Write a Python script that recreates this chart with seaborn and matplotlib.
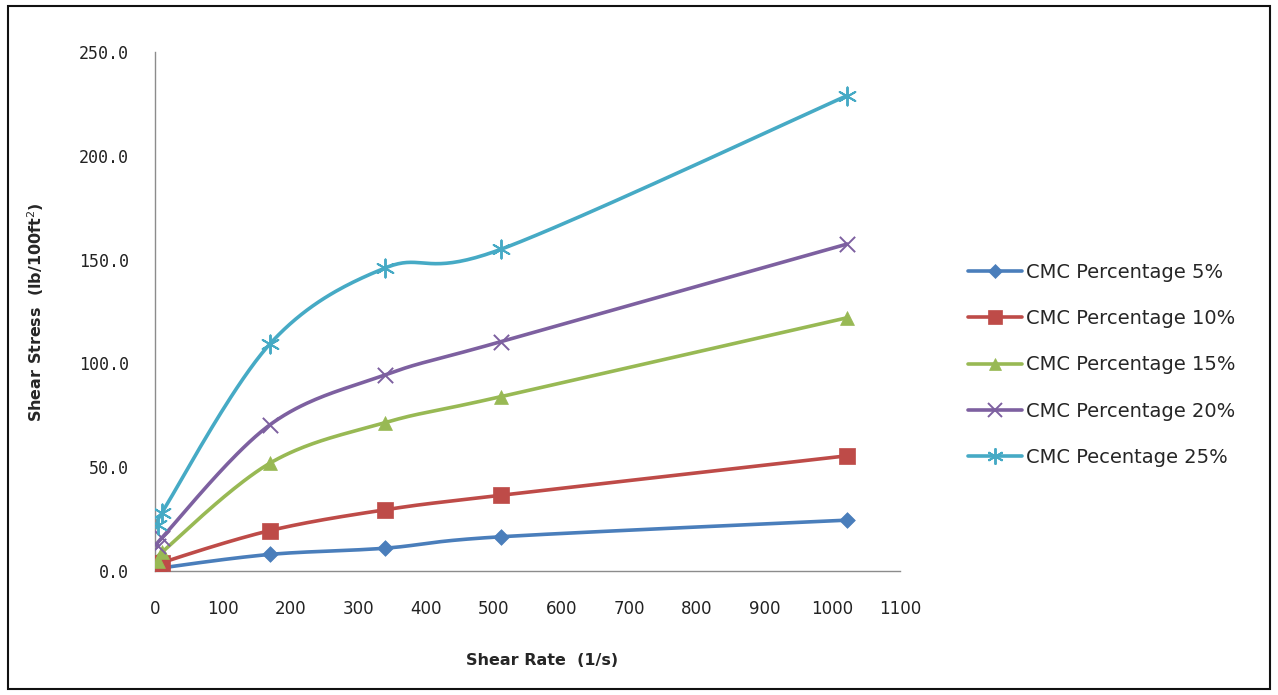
import numpy as np
import pandas as pd
import matplotlib
matplotlib.use("Agg")
import matplotlib.pyplot as plt
from matplotlib.lines import Line2D
from matplotlib.patches import Rectangle
import seaborn as sns

# Shear rate (1/s) for the viscometer readings
shear_rate = [5.1, 10.2, 170, 340, 511, 1022]

# Shear stress (lb/100ft^2) per CMC concentration
cmc_5 = [0.5, 1.5, 8.0, 11.0, 16.5, 24.5]
cmc_10 = [2.0, 4.0, 19.5, 29.5, 36.5, 55.5]
cmc_15 = [5.0, 9.0, 52.0, 71.5, 84.0, 122.0]
cmc_20 = [12.0, 16.0, 70.5, 94.5, 110.5, 157.5]
cmc_25 = [22.0, 28.0, 109.5, 146.0, 155.0, 229.0]

labels = ["CMC Percentage 5%", "CMC Percentage 10%", "CMC Percentage 15%",
          "CMC Percentage 20%", "CMC Pecentage 25%"]
series = [cmc_5, cmc_10, cmc_15, cmc_20, cmc_25]
colors = ["#4A7EBB", "#BE4B48", "#98B954", "#7D60A0", "#46AAC5"]
markers = ["D", "s", "^", "x", (6, 2, 0)]
msizes = [8, 11, 10, 11, 13]

x_ticks = list(range(0, 1101, 100))
y_ticks = [0, 50, 100, 150, 200, 250]

XMAX, YMAX = 1100.0, 250.0
# plot-area size in pixels, used so the smoothing works in screen proportions
W_PX, H_PX = 745.0, 519.0


def smooth_curve(xs, ys, n=40):
    """Bezier smoothing through the points (Catmull-Rom style, tension 1/6)."""
    p = np.column_stack([np.asarray(xs, float) / XMAX * W_PX,
                         np.asarray(ys, float) / YMAX * H_PX])
    out = []
    for i in range(len(p) - 1):
        p0 = p[i - 1] if i > 0 else p[i]
        p1, p2 = p[i], p[i + 1]
        p3 = p[i + 2] if i + 2 < len(p) else p[i + 1]
        c1 = p1 + (p2 - p0) / 6.0
        c2 = p2 - (p3 - p1) / 6.0
        t = np.linspace(0, 1, n, endpoint=(i == len(p) - 2))[:, None]
        seg = ((1 - t) ** 3) * p1 + 3 * ((1 - t) ** 2) * t * c1 + 3 * (1 - t) * t ** 2 * c2 + t ** 3 * p2
        out.append(seg)
    out = np.vstack(out)
    return out[:, 0] / W_PX * XMAX, out[:, 1] / H_PX * YMAX


sns.set_style("white")
plt.rcParams["font.family"] = ["DejaVu Sans"]

fig = plt.figure(figsize=(12.78, 6.95), dpi=100)
ax = fig.add_axes([155 / 1278, 1 - 571 / 695, (900 - 155) / 1278, (571 - 52) / 695])

handles = []
for ys, lab, col, mk, ms in zip(series, labels, colors, markers, msizes):
    sx, sy = smooth_curve(shear_rate, ys)
    curve = pd.DataFrame({"x": sx, "y": sy})
    sns.lineplot(data=curve, x="x", y="y", sort=False, color=col, lw=2.6,
                 ax=ax, legend=False, zorder=2)
    pts = pd.DataFrame({"x": shear_rate, "y": ys})
    if mk in ("x", (6, 2, 0)):
        sns.scatterplot(data=pts, x="x", y="y", marker=mk, s=ms ** 2, color=col,
                        linewidth=1.4, ax=ax, legend=False, zorder=3)
    else:
        sns.scatterplot(data=pts, x="x", y="y", marker=mk, s=ms ** 2, color=col,
                        edgecolor=col, linewidth=0.5, ax=ax, legend=False, zorder=3)
    handles.append(Line2D([0], [0], color=col, lw=2.6, marker=mk, markersize=ms * 0.9,
                          markeredgecolor=col, markerfacecolor=col,
                          markeredgewidth=1.4 if mk in ("x", (6, 2, 0)) else 0.5))

ax.set_xlim(0, XMAX)
ax.set_ylim(0, YMAX)
ax.set_xticks(x_ticks)
ax.set_xticklabels([str(v) for v in x_ticks])
ax.set_yticks(y_ticks)
ax.set_yticklabels([f"{v:.1f}" for v in y_ticks], family="DejaVu Sans Mono")
ax.tick_params(axis="x", labelsize=12, length=0, pad=21, colors="#222222")
ax.tick_params(axis="y", labelsize=12, length=0, pad=19, colors="#222222")

for side in ("top", "right"):
    ax.spines[side].set_visible(False)
for side in ("left", "bottom"):
    ax.spines[side].set_color("#8C8C8C")
    ax.spines[side].set_linewidth(1.0)

ax.set_xlabel("Shear Rate  (1/s)", fontsize=11.5, fontweight="bold")
ax.set_ylabel("Shear Stress  (lb/100ft$^2$)", fontsize=11.5, fontweight="bold")
ax.xaxis.set_label_coords((542 - 155) / 745, -(653 - 571) / 519)
ax.yaxis.set_label_coords(-(155 - 46) / 745, (571 - 312) / 519)

leg = fig.legend(handles, labels, loc="center left", bbox_to_anchor=(950 / 1278, 1 - 365 / 695),
                 frameon=False, fontsize=14, handlelength=2.8, labelspacing=1.4,
                 handletextpad=0.2)

# chart border
fig.patches.append(Rectangle((8 / 1278, 6 / 695), 1 - 16 / 1278, 1 - 12 / 695,
                             transform=fig.transFigure, fill=False,
                             edgecolor="#111111", linewidth=1.5))

fig.savefig("out.png", dpi=100)
